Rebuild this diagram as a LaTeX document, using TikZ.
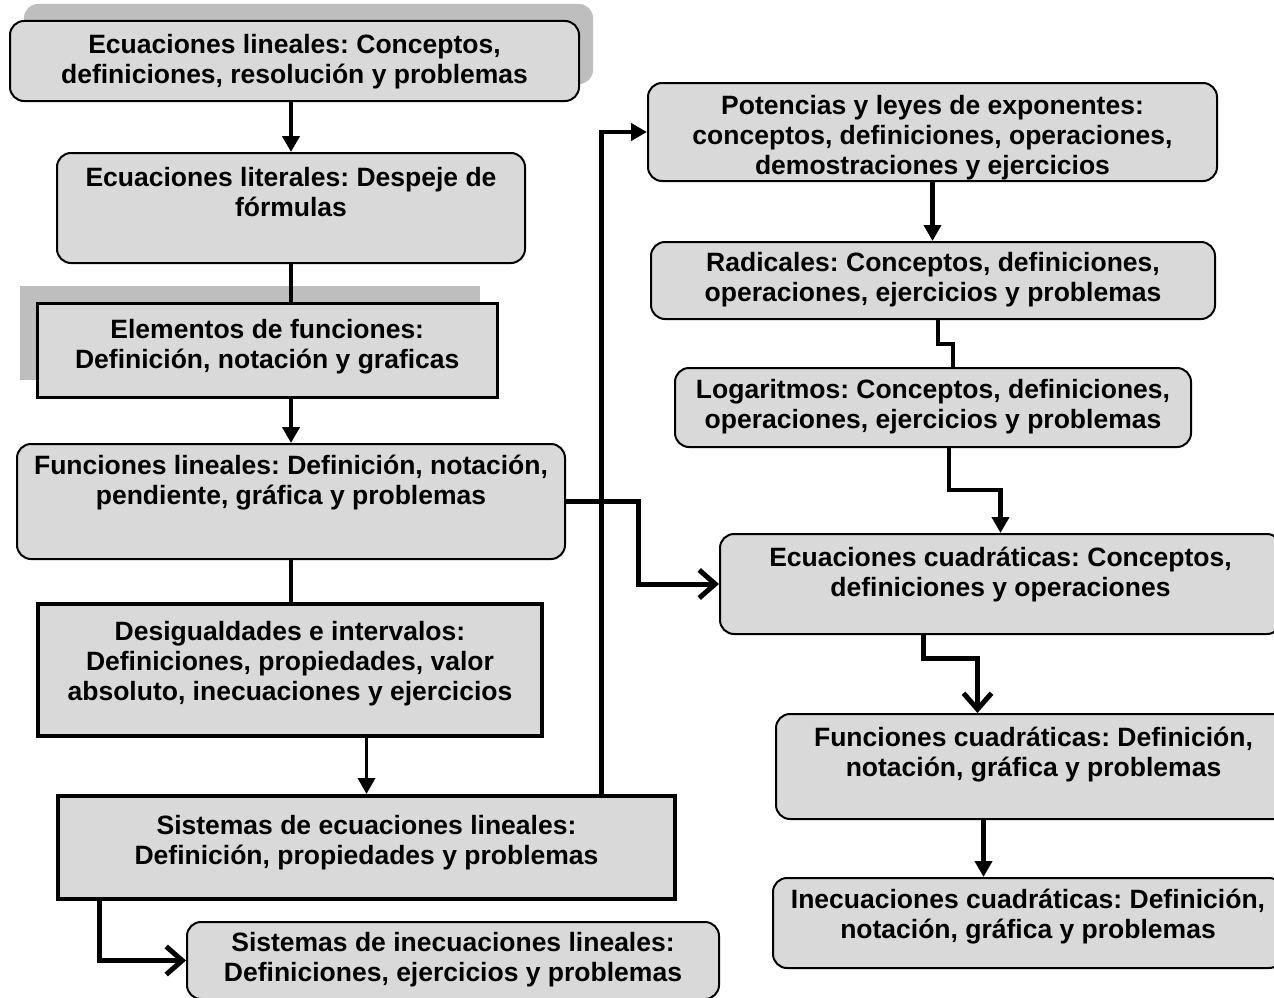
\documentclass[tikz,border=0pt]{standalone}
\usepackage{fontspec}
\setmainfont{Liberation Sans}
\usetikzlibrary{arrows.meta, calc}
\definecolor{boxgray}{RGB}{217, 217, 217}
\definecolor{shadowgray}{RGB}{190, 190, 190}
\frenchspacing

\begin{document}
\begin{tikzpicture}[x=1pt, y=-1pt,
  every node/.style={font=\fontsize{26.5}{30}\selectfont\bfseries, align=center, inner sep=0pt, anchor=north west},
  geom/.style n args={3}{minimum width=#1pt, text height=#2pt, text depth=#3pt},
  roundbox/.style={draw, line width=2pt, fill=boxgray, rounded corners=14pt},
  flatbox/.style={draw, line width=2.5pt, fill=boxgray},
  heavybox/.style={draw, line width=4pt, fill=boxgray},
  conn/.style={line width=4.5pt, -{Triangle[width=17pt, length=16pt]}},
  plain/.style={line width=4.5pt},
  barb/.style={line width=5pt, -{Straight Barb[width=28pt, length=16pt]}}]
  \useasboundingbox (0, 0) rectangle (1274, 998);

  % Shadows
  \fill[shadowgray, rounded corners=14pt] (24, 4) rectangle (593, 84);
  \fill[shadowgray] (20, 286) rectangle (480, 380);

  % Left column
  \node[roundbox, geom={569}{62}{18}] (ecLin) at (9, 20) {Ecuaciones lineales: Conceptos,\\ definiciones, resolución y problemas};
  \node[roundbox, geom={468}{63}{47}] (ecLit) at (56, 152) {Ecuaciones literales: Despeje de\\ fórmulas};
  \node[flatbox, geom={460}{65}{29}] (elem) at (36, 302) {Elementos de funciones:\\ Definición, notación y graficas};
  \node[roundbox, geom={548}{60}{55}] (funLin) at (16, 443) {Funciones lineales: Definición, notación,\\ pendiente, gráfica y problemas};
  \node[heavybox, geom={504}{96}{36}] (desig) at (36, 602) {Desigualdades e intervalos:\\ Definiciones, propiedades, valor\\ absoluto, inecuaciones y ejercicios};
  \node[heavybox, geom={617}{68}{35}] (sistEc) at (56, 794) {Sistemas de ecuaciones lineales:\\ Definición, propiedades y problemas};
  \node[roundbox, geom={532}{59}{18}] (sistIn) at (186, 921) {Sistemas de inecuaciones lineales:\\ Definiciones, ejercicios y problemas};

  % Right column
  \node[roundbox, geom={569}{91}{7}] (pot) at (647, 82) {Potencias y leyes de exponentes:\\ conceptos, definiciones, operaciones,\\ demostraciones y ejercicios};
  \node[roundbox, geom={564}{59}{18}] (rad) at (650, 241) {Radicales: Conceptos, definiciones,\\ operaciones, ejercicios y problemas};
  \node[roundbox, geom={516}{60}{19}] (log) at (674, 367) {Logaritmos: Conceptos, definiciones,\\ operaciones, ejercicios y problemas};
  \node[roundbox, geom={561}{62}{38}] (ecCuad) at (719, 533) {Ecuaciones cuadráticas: Conceptos,\\ definiciones y operaciones};
  \node[roundbox, geom={515}{62}{43}] (funCuad) at (775, 713) {Funciones cuadráticas: Definición,\\ notación, gráfica y problemas};
  \node[roundbox, geom={510}{60}{30}] (ineCuad) at (772, 877) {Inecuaciones cuadráticas: Definición,\\ notación, gráfica y problemas};

  % Connectors, left
  \draw[conn] (ecLin.south -| ecLit.north) -- (ecLit.north);
  \draw[plain] (ecLit.south) -- (ecLit.south |- elem.north);
  \draw[conn] (elem.south -| funLin.north) -- (funLin.north);
  \draw[plain] (funLin.south) -- (funLin.south |- desig.north);
  \draw[conn, line width=3.5pt] (desig.south -| sistEc.north) -- (sistEc.north);
  \draw[barb] ([xshift=43pt]sistEc.south west) |- (sistIn.west);

  % Connectors, across
  \draw[conn] ([xshift=235pt]sistEc.north) |- (pot.west);
  \draw[barb] (funLin.east) -- ++(72, 0) |- (ecCuad.west);

  % Connectors, right
  \draw[conn] (pot.south) -- (pot.south |- rad.north);
  \draw[plain] ([xshift=5pt]rad.south) -- ++(0, 24) -| ([xshift=20pt]log.north);
  \draw[conn] ([xshift=16pt]log.south) -- ++(0, 42) -| (ecCuad.north);
  \draw[barb] ([xshift=-77pt]ecCuad.south) -- ++(0, 23) -| ([xshift=-56pt]funCuad.north);
  \draw[conn] ([xshift=-50pt]funCuad.south) -- ([xshift=-50pt]funCuad.south |- ineCuad.north);
\end{tikzpicture}
\end{document}
